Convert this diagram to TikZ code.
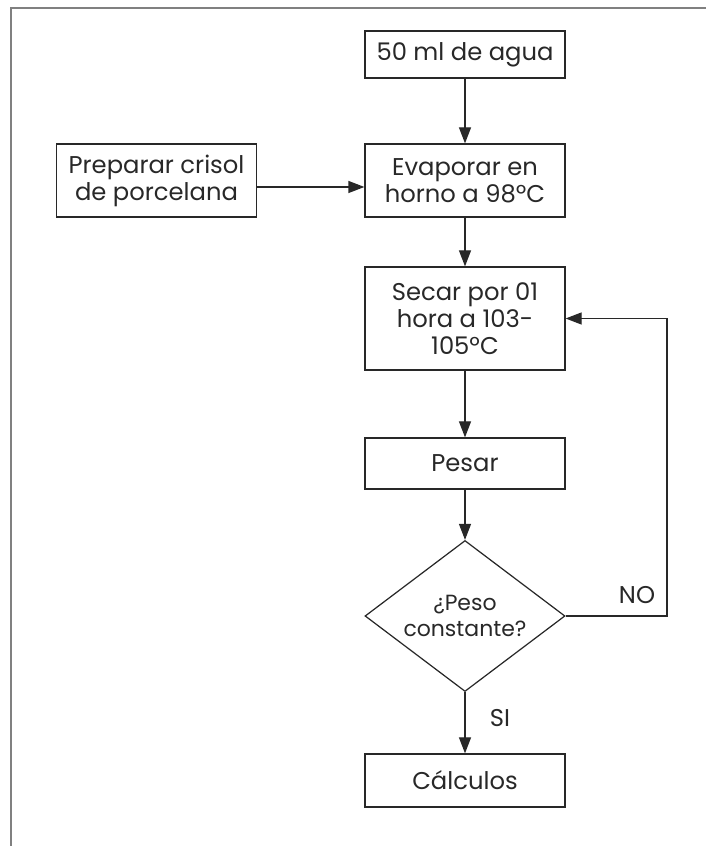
\documentclass[tikz,border=0pt]{standalone}
\usepackage{fontspec}
\setmainfont{Poppins}
\usetikzlibrary{shapes.geometric, positioning, arrows.meta}
\definecolor{framegray}{RGB}{128, 128, 128}
\definecolor{inkgray}{RGB}{40, 40, 40}

\begin{document}
\begin{tikzpicture}[
  font=\fontsize{13.8}{15.3}\selectfont,
  text=inkgray,
  stepbox/.style={
    draw=inkgray,
    line width=0.7pt,
    minimum width=4cm,
    align=center,
    inner sep=2pt,
  },
  decision/.style={
    draw=inkgray,
    line width=0.7pt,
    diamond,
    minimum width=4cm,
    minimum height=3.02cm,
    align=center,
    inner sep=-8pt,
    font=\fontsize{12.5}{15.3}\selectfont,
  },
  flow/.style={
    draw=inkgray,
    line width=0.7pt,
    -{Triangle[length=0.32cm, width=0.24cm]},
  }
]

  \useasboundingbox (0, 0) rectangle (14.12, 16.92);

  % marco
  \draw[framegray, line width=1.1pt] (0.22, 0) -- (0.22, 16.76) -- (14.12, 16.76);

  % Agua
  \node[stepbox, minimum height=0.94cm] (agua) at (9.3, 15.83) {50 ml de agua};

  % Crisol
  \node[stepbox, minimum height=1.46cm] (crisol) at (3.13, 13.31) {Preparar crisol\\de porcelana};

  % Evaporar
  \node[stepbox, minimum height=1.46cm] (evaporar) at (9.3, 13.31) {Evaporar en\\horno a 98ºC};

  % Secar
  \node[stepbox, minimum height=2.06cm] (secar) at (9.3, 10.55) {Secar por 01\\hora a 103-\\105ºC};

  % Pesar
  \node[stepbox, minimum height=1.02cm] (pesar) at (9.3, 7.65) {Pesar};

  % Peso constante
  \node[decision] (peso) at (9.3, 4.6) {¿Peso\\constante?};

  % Calculos
  \node[stepbox, minimum height=1.06cm] (calculos) at (9.3, 1.31) {Cálculos};

  % etiquetas
  \node (no) at (12.74, 5.02) {NO};
  \node (si) at (10.0, 2.56) {SI};

  % flechas
  \coordinate (vuelta) at (13.34, 4.6);
  \draw[flow] (agua) -- (evaporar);
  \draw[flow] ([yshift=-0.13cm]crisol.east) -- ([yshift=-0.13cm]evaporar.west);
  \draw[flow] (evaporar) -- (secar);
  \draw[flow] (secar) -- (pesar);
  \draw[flow] (pesar) -- (peso);
  \draw[flow] (peso) -- (calculos);
  \draw[flow] (peso.east) -- (vuelta) |- (secar.east);

\end{tikzpicture}
\end{document}
